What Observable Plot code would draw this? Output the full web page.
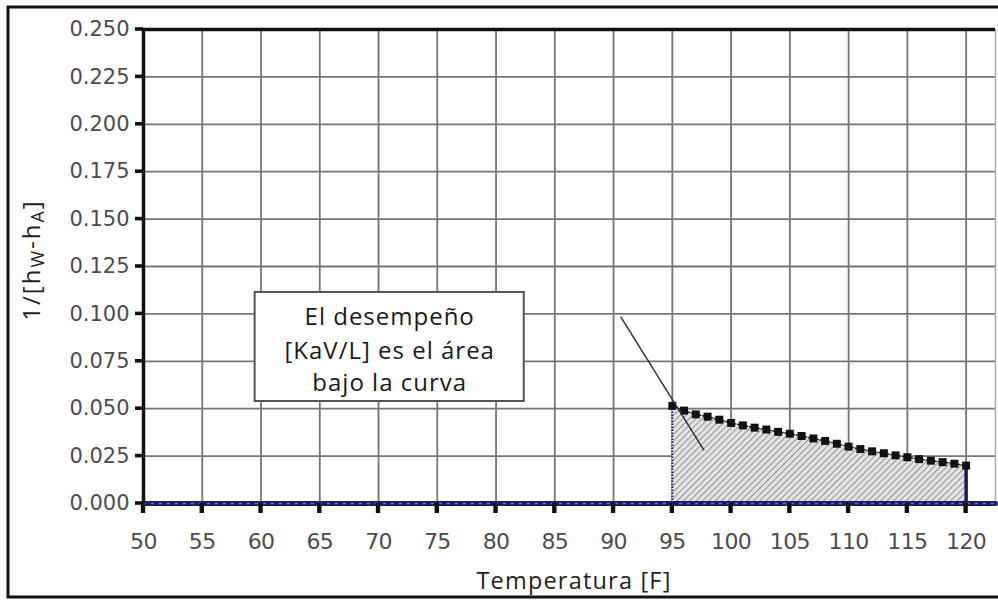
<!DOCTYPE html>
<html>
<head>
<meta charset="utf-8">
<script src="https://cdn.jsdelivr.net/npm/d3@7"></script>
<script src="https://cdn.jsdelivr.net/npm/@observablehq/plot@0.6"></script>
<style>
  html, body { margin: 0; padding: 0; background: #fff; }
  #chart { width: 998px; height: 601px; overflow: hidden; }
</style>
</head>
<body>
<div id="chart"></div>
<script>
// ---- data ----
const temps = [95, 96, 97, 98, 99, 100, 101, 102, 103, 104, 105, 106, 107, 108, 109, 110, 111, 112, 113, 114, 115, 116, 117, 118, 119, 120];
const invDiff = [0.0515, 0.0490, 0.0470, 0.0458, 0.0442, 0.0425, 0.0412, 0.0400, 0.0390, 0.0378, 0.0368, 0.0356, 0.0343, 0.0330, 0.0315, 0.0300, 0.0287, 0.0275, 0.0265, 0.0254, 0.0244, 0.0234, 0.0226, 0.0218, 0.0210, 0.0200];
const baseTemps = [50, 122.5];
const baseValues = [0, 0];
const xTicks = [50, 55, 60, 65, 70, 75, 80, 85, 90, 95, 100, 105, 110, 115, 120];
const yTicks = [0, 0.025, 0.05, 0.075, 0.1, 0.125, 0.15, 0.175, 0.2, 0.225, 0.25];
const xDomain = [50, 122.5];
const yDomain = [0, 0.25];
const noteLines = ["El desempeño", "[KaV/L] es el área", "bajo la curva"];
const noteLineY = [0.0982, 0.0805, 0.0635];
const noteBox = {x1: 59.5, x2: 82.4, y1: 0.0538, y2: 0.1113};
const leader = {x1: 90.6, y1: 0.0986, x2: 97.7, y2: 0.028};
const xLabel = "Temperatura [F]";

const curve = temps.map((t, i) => ({t, v: invDiff[i]}));
const base = baseTemps.map((t, i) => ({t, v: baseValues[i]}));
const notes = noteLines.map((s, i) => ({s, y: noteLineY[i]}));

const navy = "#1b1b6a";
const grid = "#767676";

const plot = Plot.plot({
  width: 998,
  height: 601,
  marginLeft: 143,
  marginRight: 3,
  marginTop: 29,
  marginBottom: 98,
  style: {background: "white", fontFamily: "DejaVu Sans", overflow: "visible"},
  x: {domain: xDomain},
  y: {domain: yDomain},
  marks: [
    // grid
    Plot.ruleX(xTicks.slice(1), {stroke: grid, strokeWidth: 1.8}),
    Plot.ruleY(yTicks.slice(1, -1), {stroke: grid, strokeWidth: 1.8}),
    Plot.ruleX([xDomain[1]], {stroke: "#aaa", strokeWidth: 1.5}),
    // hatched area
    Plot.areaY(curve, {x: "t", y: "v", fill: "url(#hatch)", curve: "linear"}),
    // verticals
    Plot.ruleX([temps[0]], {y1: 0, y2: invDiff[0], stroke: navy, strokeWidth: 2, strokeDasharray: "1.5,1.5"}),
    Plot.ruleX([temps[temps.length - 1]], {y1: 0, y2: invDiff[invDiff.length - 1], stroke: navy, strokeWidth: 3.5}),
    // baseline series at 0
    Plot.line(base, {x: "t", y: "v", stroke: navy, strokeWidth: 5}),
    Plot.line(base, {x: "t", y: "v", stroke: "#7070b0", strokeWidth: 1.5, strokeDasharray: "2,6"}),
    // curve
    Plot.line(curve, {x: "t", y: "v", stroke: "#222", strokeWidth: 1.5, strokeDasharray: "2,2"}),
    Plot.dot(curve, {x: "t", y: "v", symbol: "square", r: 4.5, fill: "#111", stroke: "none"}),
    // frame lines
    Plot.ruleY([yDomain[1]], {stroke: "#111", strokeWidth: 3.5}),
    Plot.ruleX([xDomain[0]], {stroke: "#111", strokeWidth: 3.5}),
    // axes (labels only; tick marks added below)
    Plot.axisY({ticks: yTicks, tickFormat: d3.format(".3f"), tickSize: 0, tickPadding: 14, fontSize: 21, label: null}),
    Plot.axisX({ticks: xTicks, tickFormat: d => String(d), tickSize: 0, tickPadding: 30, fontSize: 22, label: null}),
    // annotation
    Plot.link([leader], {x1: "x1", y1: "y1", x2: "x2", y2: "y2", stroke: "#333", strokeWidth: 1.5}),
    Plot.rect([noteBox], {x1: "x1", x2: "x2", y1: "y1", y2: "y2", fill: "white", stroke: "#555", strokeWidth: 2}),
    Plot.text(notes, {x: (noteBox.x1 + noteBox.x2) / 2, y: "y", text: "s", fontSize: 24, fontFamily: "Open Sans", fill: "#1a1a1a", textAnchor: "middle"})
  ]
});

const svg = d3.select(plot);
const defs = svg.insert("defs", ":first-child");
const pat = defs.append("pattern")
  .attr("id", "hatch")
  .attr("patternUnits", "userSpaceOnUse")
  .attr("width", 4.5).attr("height", 4.5)
  .attr("patternTransform", "rotate(45)");
pat.append("rect").attr("width", 4.5).attr("height", 4.5).attr("fill", "#e2e2e2");
pat.append("line").attr("x1", 0).attr("y1", 0).attr("x2", 0).attr("y2", 4.5)
  .attr("stroke", "#858585").attr("stroke-width", 1.6);

// tick marks through the plot's own scales (drawn as filled rects for visibility)
const sx = plot.scale("x"), sy = plot.scale("y");
const y0 = sy.apply(0), x0 = sx.apply(xDomain[0]);
const tg = svg.append("g").attr("fill", "#111");
tg.selectAll("rect.xt").data(xTicks).join("rect").attr("class", "xt")
  .attr("x", d => sx.apply(d) - 2.2).attr("width", 4.4)
  .attr("y", y0).attr("height", 10);
tg.selectAll("rect.yt").data(yTicks).join("rect").attr("class", "yt")
  .attr("y", d => sy.apply(d) - 1.8).attr("height", 3.6)
  .attr("x", x0 - 8).attr("width", 8);

// tick label styling
svg.selectAll('g[aria-label$="-axis tick label"]')
  .attr("fill", "#4d4d4d").style("letter-spacing", "-0.6px");
svg.selectAll('g[aria-label="y-axis tick label"]').style("letter-spacing", "0px");
svg.selectAll('g[aria-label="text"] text').style("letter-spacing", "1px");

// outer frame
svg.append("rect").attr("x", 8).attr("y", 7).attr("width", 1000).attr("height", 590)
  .attr("fill", "none").attr("stroke", "#111").attr("stroke-width", 3);

// axis titles
svg.append("text").attr("x", 574).attr("y", 589).attr("text-anchor", "middle")
  .attr("font-family", "Open Sans").attr("font-size", 23.5).attr("fill", "#222")
  .style("letter-spacing", "1.2px").text(xLabel);

const yl = svg.append("text").attr("transform", "translate(40,260) rotate(-90)")
  .attr("text-anchor", "middle").attr("font-family", "Open Sans").attr("font-size", 24).attr("fill", "#222")
  .style("letter-spacing", "2px");
yl.append("tspan").text("1/[h");
yl.append("tspan").attr("font-size", 18).attr("dy", 4).text("W");
yl.append("tspan").attr("dy", -4).text("-h");
yl.append("tspan").attr("font-size", 18).attr("dy", 4).text("A");
yl.append("tspan").attr("dy", -4).text("]");

document.getElementById("chart").appendChild(plot);
</script>
</body>
</html>
